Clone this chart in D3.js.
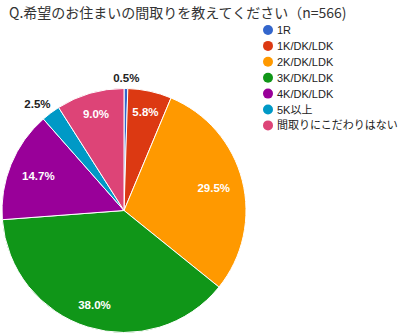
<!DOCTYPE html>
<html>
<head>
<meta charset="utf-8">
<script src="https://cdn.jsdelivr.net/npm/d3@7"></script>
<style>
  html, body { margin: 0; padding: 0; background: #fff; }
  svg { display: block; }
</style>
</head>
<body>
<svg id="chart" width="400" height="336"></svg>
<script>
// Survey: preferred floor plan (n=566)
const titleText = "Q.希望のお住まいの間取りを教えてください（n=566)";
const categories = ["1R", "1K/DK/LDK", "2K/DK/LDK", "3K/DK/LDK", "4K/DK/LDK", "5K以上", "間取りにこだわりはない"];
const shares = [0.5, 5.8, 29.5, 38.0, 14.7, 2.5, 9.0];
const colors = ["#3366cc", "#dc3912", "#ff9900", "#109618", "#990099", "#0099c6", "#dd4477"];

const data = categories.map((c, i) => ({ name: c, value: shares[i], color: colors[i] }));

const svg = d3.select("#chart");
const latin = "'Liberation Sans', Arial, 'Noto Sans CJK JP', sans-serif";
const cjk = "'Noto Sans CJK JP', 'Liberation Sans', sans-serif";

svg.append("text")
  .attr("x", 9).attr("y", 18)
  .attr("font-family", cjk)
  .attr("font-size", 14)
  .attr("fill", "#333")
  .text(titleText);

// Pie
const cx = 124, cy = 210.5, r = 122;
const pie = d3.pie().value(d => d.value).sort(null);
const arcs = pie(data);
const arc = d3.arc().innerRadius(0).outerRadius(r);

const g = svg.append("g").attr("transform", `translate(${cx},${cy})`);
g.selectAll("path.slice")
  .data(arcs)
  .join("path")
  .attr("class", "slice")
  .attr("d", arc)
  .attr("fill", d => d.data.color)
  .attr("stroke", "#fff")
  .attr("stroke-width", 1);

// Percentage labels: inside for larger slices (kept clear of the rim),
// outside for small ones
const fmt = v => v.toFixed(1) + "%";
const labels = g.selectAll("text.pct")
  .data(arcs)
  .join("text")
  .attr("class", "pct")
  .attr("font-family", latin)
  .attr("font-weight", "bold")
  .attr("font-size", 11.5)
  .attr("dominant-baseline", "central")
  .attr("text-anchor", "middle")
  .attr("fill", d => d.data.value < 3 ? "#222" : "#fff")
  .text(d => fmt(d.data.value));

labels.attr("transform", function(d) {
  const a = (d.startAngle + d.endAngle) / 2;
  const s = Math.sin(a), c = Math.cos(a);
  const hw = this.getComputedTextLength() / 2, hh = 6;
  if (d.data.value < 3) {
    const rr = r + 9;
    return `translate(${s * rr + s * hw},${-c * rr - 2})`;
  }
  const ext = Math.abs(s) * hw + Math.abs(c) * hh;
  const rr = r * 0.9 - ext;
  return `translate(${s * rr},${-c * rr})`;
});

// Legend
const legend = svg.append("g");
const rowY = d3.scaleLinear().domain([0, 1]).range([30, 45.9]);
const items = legend.selectAll("g.item")
  .data(data)
  .join("g")
  .attr("class", "item")
  .attr("transform", (d, i) => `translate(268,${rowY(i)})`);
items.append("circle").attr("r", 5).attr("fill", d => d.color);
items.append("text")
  .attr("x", 9).attr("y", 0)
  .attr("dominant-baseline", "central")
  .attr("font-family", latin)
  .attr("font-size", 11)
  .attr("fill", "#222")
  .text(d => d.name);
</script>
</body>
</html>
